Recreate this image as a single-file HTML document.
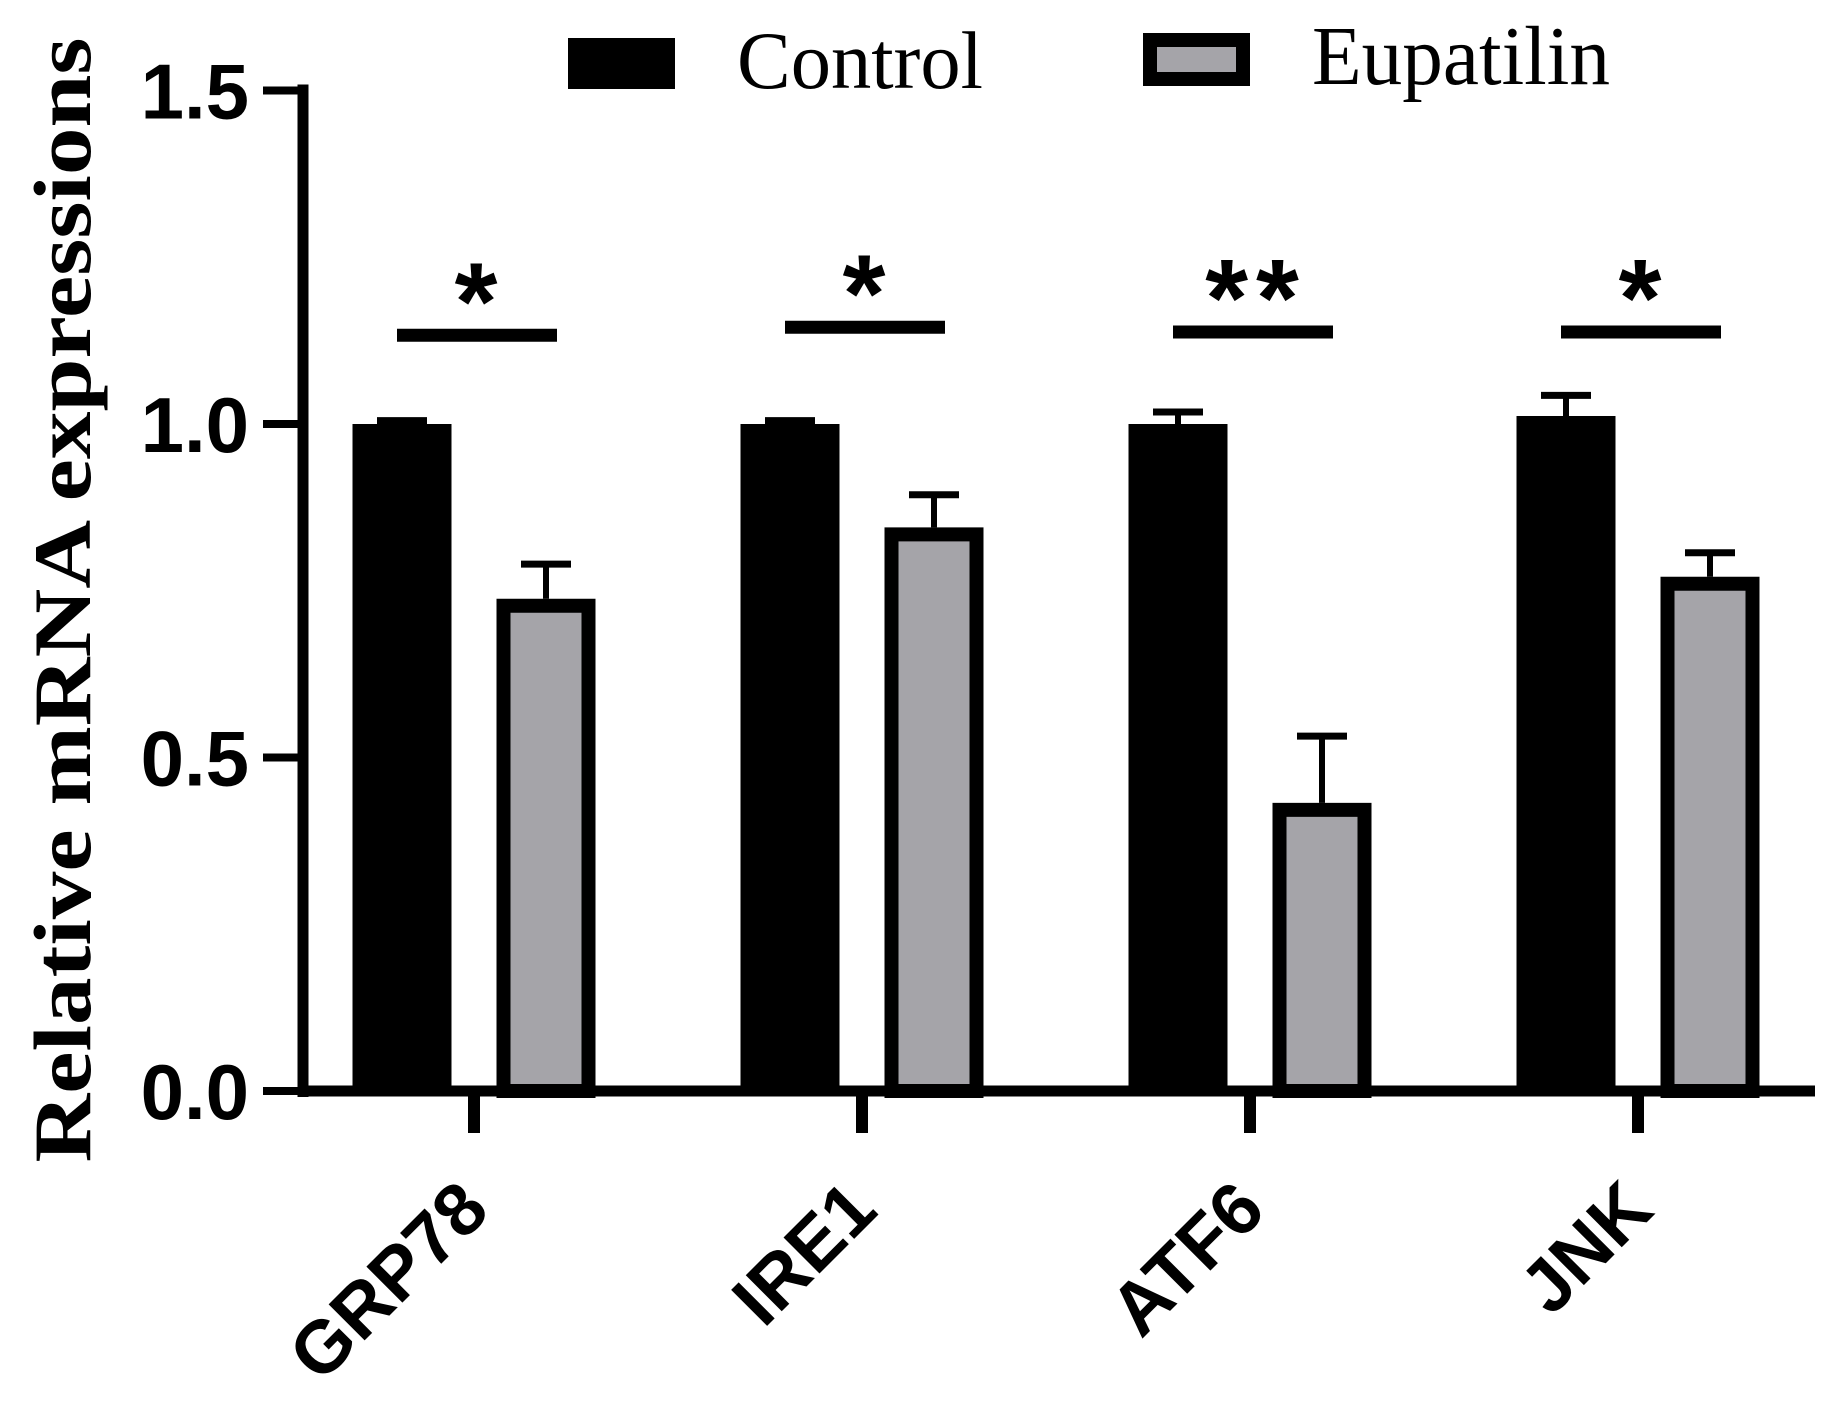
<!DOCTYPE html>
<html><head><meta charset="utf-8"><style>
html,body{margin:0;padding:0;background:#fff;}
svg{display:block;}
</style></head><body>
<svg id="chart" width="1831" height="1402" viewBox="0 0 1831 1402" xmlns="http://www.w3.org/2000/svg">
<g id="axes"></g><g id="bars"></g><g id="sig"></g>
<g>
  <rect x="568" y="38" width="107" height="51" fill="#000"/>
  <text x="737" y="88" font-family="Liberation Serif, serif" font-size="82" textLength="246" lengthAdjust="spacingAndGlyphs">Control</text>
  <rect x="1150" y="40" width="93" height="39" fill="#a5a4a9" stroke="#000" stroke-width="14"/>
  <text x="1312" y="84" font-family="Liberation Serif, serif" font-size="84" textLength="298" lengthAdjust="spacingAndGlyphs">Eupatilin</text>
</g>
<text transform="translate(90,600) rotate(-90)" text-anchor="middle" font-family="Liberation Serif, serif" font-weight="bold" font-size="82" textLength="1125" lengthAdjust="spacingAndGlyphs">Relative  mRNA expressions</text>
</svg>
<script>
const categories = ["GRP78","IRE1","ATF6","JNK"];
const controlValues = [1.0, 1.0, 1.0, 1.012];
const controlErrors = [0.005, 0.005, 0.018, 0.031];
const eupatilinValues = [0.738, 0.845, 0.432, 0.771];
const eupatilinErrors = [0.052, 0.049, 0.1, 0.036];
const significance = ["*","*","**","*"];
const sigLevels = [1.13, 1.145, 1.138, 1.138];
const yTicks = [0, 0.5, 1.0, 1.5];
const yTickLabels = ["0.0","0.5","1.0","1.5"];

const NS="http://www.w3.org/2000/svg";
const y0=1091, unit=667;
function yScale(v){return y0 - v*unit;}
function xScale(i){return 474 + i*388;}
function mk(tag, attrs, parent){const e=document.createElementNS(NS,tag);for(const k in attrs)e.setAttribute(k,attrs[k]);parent.appendChild(e);return e;}
const axes=document.getElementById('axes'), bars=document.getElementById('bars'), sig=document.getElementById('sig');

let l=mk('line',{x1:303,y1:yScale(1.5)-6,x2:303,y2:y0+6,stroke:'#000','stroke-width':11},axes);


l=mk('line',{x1:298,y1:y0,x2:1815,y2:y0,stroke:'#000','stroke-width':11},axes);



yTicks.forEach((v,i)=>{
  const t=mk('line',{x1:263,y1:yScale(v),x2:303,y2:yScale(v),stroke:'#000','stroke-width':8},axes);
  
  
  const tx=mk('text',{x:249,y:yScale(v)+28,'text-anchor':'end','font-family':'Liberation Sans, sans-serif','font-weight':'bold','font-size':78},axes);
  tx.textContent=yTickLabels[i];
  
  
});

categories.forEach((c,i)=>{
  const cx=xScale(i);
  const t=mk('line',{x1:cx,y1:y0,x2:cx,y2:1133,stroke:'#000','stroke-width':12},axes);
  
  
  const tx=mk('text',{x:0,y:0,'text-anchor':'end','font-family':'Liberation Sans, sans-serif','font-weight':'bold','font-size':74,transform:`translate(${cx+18},${1213}) rotate(-45)`},axes);
  tx.textContent=c;
  
  

  const xc=cx-72, w=99;
  const cv=controlValues[i];
  const ce=controlErrors[i];
  let eb=mk('line',{x1:xc,y1:yScale(cv),x2:xc,y2:yScale(cv+ce),stroke:'#000','stroke-width':6},bars);
  
  
  eb=mk('line',{x1:xc-25,y1:yScale(cv+ce),x2:xc+25,y2:yScale(cv+ce),stroke:'#000','stroke-width':7},bars);
  
  
  const b=mk('rect',{x:xc-w/2,y:yScale(cv),width:w,height:y0-yScale(cv),fill:'#000'},bars);
  
  

  const xe=cx+72;
  const ev=eupatilinValues[i];
  const ee=eupatilinErrors[i];
  eb=mk('line',{x1:xe,y1:yScale(ev),x2:xe,y2:yScale(ev+ee),stroke:'#000','stroke-width':6},bars);
  
  
  eb=mk('line',{x1:xe-25,y1:yScale(ev+ee),x2:xe+25,y2:yScale(ev+ee),stroke:'#000','stroke-width':7},bars);
  
  
  const be=mk('rect',{x:xe-w/2+7,y:yScale(ev)+7,width:w-14,height:y0-yScale(ev)-7,fill:'#a5a4a9',stroke:'#000','stroke-width':14},bars);
  
  

  const sy=yScale(sigLevels[i])+ (i===0?-2:0);
  const sl=mk('line',{x1:cx-77,y1:sy,x2:cx+83,y2:sy,stroke:'#000','stroke-width':13},sig);
  
  
  const st=mk('text',{x:cx+6,y:sy+4,'text-anchor':'middle','font-family':'Liberation Sans, sans-serif','font-weight':'bold','font-size':110,'letter-spacing':'8'},sig);
  st.textContent=significance[i];
  
  
});
</script>
</body></html>
